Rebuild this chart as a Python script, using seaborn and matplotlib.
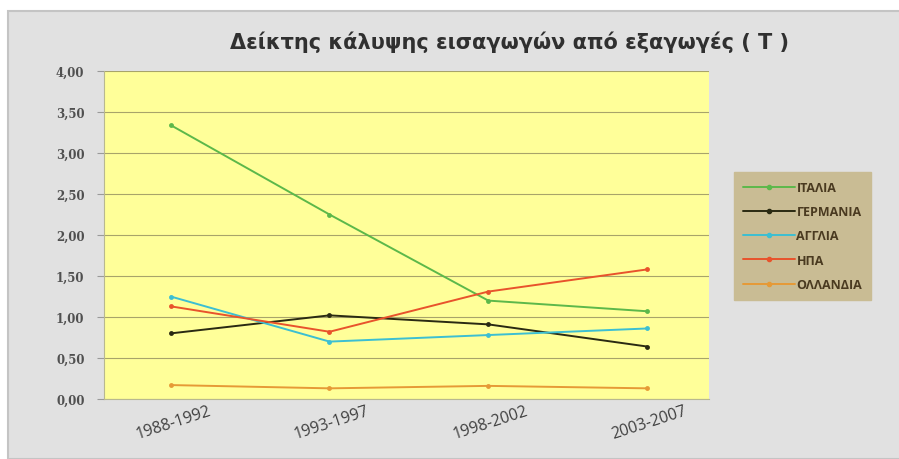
#!/usr/bin/env python3
"""Δείκτης κάλυψης εισαγωγών από εξαγωγές - γραμμικό διάγραμμα."""

import matplotlib
matplotlib.use("Agg")
import matplotlib.pyplot as plt
from matplotlib import transforms
from matplotlib.patches import Rectangle
from matplotlib.ticker import FuncFormatter
import pandas as pd
import seaborn as sns

periods = ["1988-1992", "1993-1997", "1998-2002", "2003-2007"]
countries = ["ΙΤΑΛΙΑ", "ΓΕΡΜΑΝΙΑ", "ΑΓΓΛΙΑ", "ΗΠΑ", "ΟΛΛΑΝΔΙΑ"]

italia = [3.34, 2.25, 1.20, 1.07]
germania = [0.80, 1.02, 0.91, 0.64]
anglia = [1.25, 0.70, 0.78, 0.86]
hpa = [1.13, 0.82, 1.31, 1.58]
ollandia = [0.17, 0.13, 0.16, 0.13]

series = [italia, germania, anglia, hpa, ollandia]
colors = ["#5cb84a", "#2a2a12", "#3cbfd2", "#e8532c", "#e69a36"]
yticks = [0.0, 0.5, 1.0, 1.5, 2.0, 2.5, 3.0, 3.5, 4.0]

rows = []
for name, vals in zip(countries, series):
    for p, v in zip(periods, vals):
        rows.append({"period": p, "country": name, "value": v})
df = pd.DataFrame(rows)

sns.set_theme(style="white")
plt.rcParams["font.family"] = ["DejaVu Sans"]

fig = plt.figure(figsize=(8.99, 4.6), dpi=100)
fig.patch.set_facecolor("white")
# γκρι φόντο περιοχής γραφήματος
bg = Rectangle((8 / 899, 0), 1, 1 - 12 / 460, transform=fig.transFigure,
               facecolor="#e1e1e1", edgecolor="#c4c4c4", lw=1.5, zorder=-10)
fig.patches.append(bg)

ax = fig.add_axes([104 / 899, 60 / 460, 605 / 899, 328 / 460])
ax.set_zorder(1)
ax.set_facecolor("#ffff99")

palette = dict(zip(countries, colors))
sns.lineplot(data=df, x="period", y="value", hue="country", hue_order=countries,
             palette=palette, marker="o", markersize=3.5, markeredgewidth=0,
             linewidth=1.4, sort=False, ax=ax, legend=False)

ax.set_xlim(-0.42, 3.39)
ax.set_ylim(0, 4.0)
ax.set_yticks(yticks)
ax.yaxis.set_major_formatter(FuncFormatter(lambda v, _: f"{v:.2f}".replace(".", ",")))
ax.grid(axis="y", color="#a8a46a", lw=0.8)
ax.set_axisbelow(True)
ax.set_xlabel("")
ax.set_ylabel("")
for side in ["top", "right"]:
    ax.spines[side].set_visible(False)
for side in ["left", "bottom"]:
    ax.spines[side].set_color("#b8b890")
    ax.spines[side].set_linewidth(0.8)
ax.tick_params(axis="y", length=5, width=0.8, color="#9a9a9a", pad=9,
               labelsize=8.5, labelcolor="#505050", left=True)
ax.tick_params(axis="x", length=0, pad=2.2, labelsize=11.5, labelcolor="#404040")
for lbl in ax.get_yticklabels():
    lbl.set_family("DejaVu Serif")
    lbl.set_fontweight("bold")
shift = transforms.ScaledTranslation(0.37, 0, fig.dpi_scale_trans)
for lbl in ax.get_xticklabels():
    lbl.set_rotation(18)
    lbl.set_ha("right")
    lbl.set_va("top")
    lbl.set_rotation_mode("anchor")
    lbl.set_family("Open Sans")
    lbl.set_transform(lbl.get_transform() + shift)

fig.text(510 / 899, 1 - 42 / 460, "Δείκτης κάλυψης εισαγωγών από εξαγωγές ( Τ )",
         ha="center", va="center", fontsize=15, fontweight="bold", color="#303030",
         family="DejaVu Sans")

handles = [plt.Line2D([], [], color=c, lw=1.4, marker="o", markersize=3) for c in colors]
leg = ax.legend(handles, countries, loc="center left", bbox_to_anchor=(734 / 899, 1 - 237 / 460),
                bbox_transform=fig.transFigure, borderaxespad=0, frameon=True, fancybox=False,
                facecolor="#c9bc94", edgecolor="#c9bc94", framealpha=1,
                handlelength=4.2, handletextpad=0.1, labelspacing=0.9,
                borderpad=0.7, prop={"size": 9, "weight": "bold", "family": "Open Sans"})
for t in leg.get_texts():
    t.set_color("#4a3a20")

fig.savefig("out.png", dpi=100)
